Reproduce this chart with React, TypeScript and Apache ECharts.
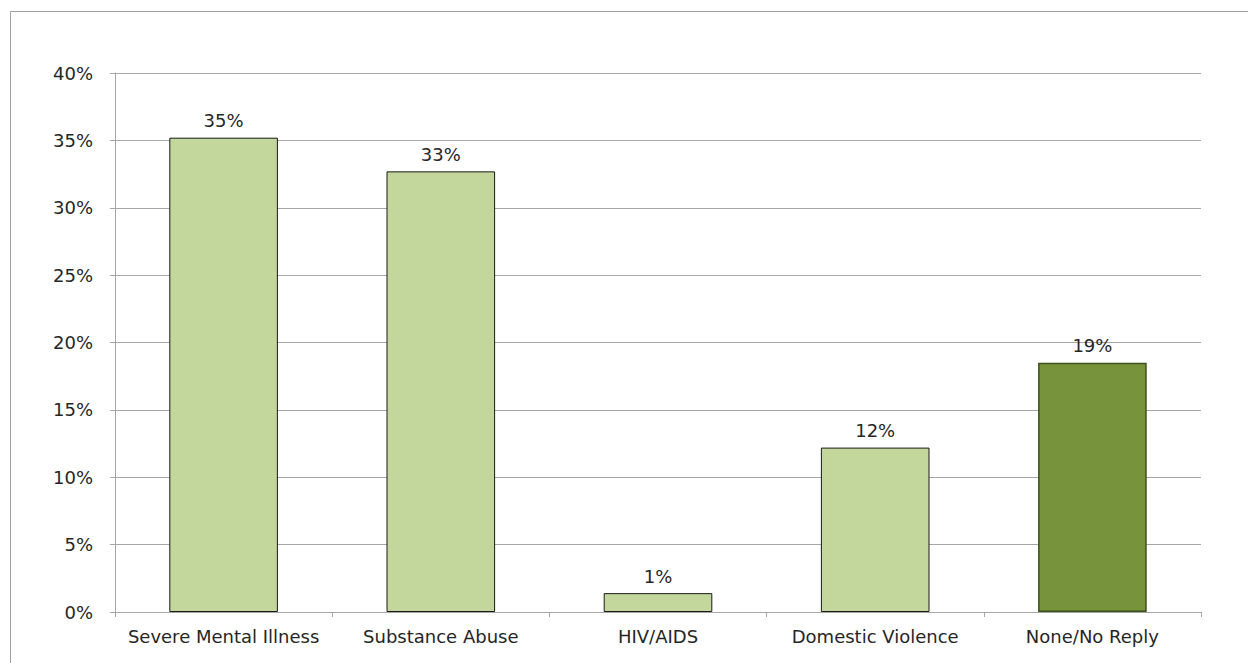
import React, { useEffect, useRef } from "react";
import * as echarts from "echarts";

const categories = ["Severe Mental Illness", "Substance Abuse", "HIV/AIDS", "Domestic Violence", "None/No Reply"];
const values = [35.2, 32.7, 1.4, 12.2, 18.5];
const labels = ["35%", "33%", "1%", "12%", "19%"];
const highlighted = [false, false, false, false, true];

export default function App() {
  const ref = useRef<HTMLDivElement>(null);
  useEffect(() => {
    const chart = echarts.init(ref.current!, null, { renderer: "svg" });
    const font = "DejaVu Sans";
    const fs = 18;
    chart.setOption({
      animation: false,
      backgroundColor: "#ffffff",
      graphic: [
        {
          type: "rect",
          shape: { x: 10.5, y: 11.5, width: 1260, height: 670 },
          style: { fill: "none", stroke: "#a0a0a0", lineWidth: 1 },
          silent: true,
        },
      ],
      grid: { left: 115, right: 47, top: 73, bottom: 51 },
      xAxis: {
        type: "category",
        data: categories,
        axisLine: { show: true, lineStyle: { color: "#a6a6a6", width: 1 } },
        axisTick: { show: true, length: 5, alignWithLabel: false, lineStyle: { color: "#a6a6a6" } },
        axisLabel: { color: "#262626", fontFamily: font, fontSize: fs, margin: 15, interval: 0 },
      },
      yAxis: {
        type: "value",
        min: 0,
        max: 40,
        interval: 5,
        axisLine: { show: true, lineStyle: { color: "#a6a6a6", width: 1 } },
        axisTick: { show: true, length: 5, lineStyle: { color: "#a6a6a6" } },
        axisLabel: { color: "#262626", fontFamily: font, fontSize: fs, margin: 22, formatter: "{value}%" },
        splitLine: { show: true, lineStyle: { color: "#a6a6a6", width: 1 } },
      },
      series: [
        {
          type: "bar",
          barWidth: "50%",
          data: values.map((v, i) => ({
            value: v,
            itemStyle: highlighted[i]
              ? { color: "#77933c", borderColor: "#3d4f1c", borderWidth: 1.5 }
              : { color: "#c3d69b", borderColor: "#1a1a1a", borderWidth: 1 },
          })),
          label: {
            show: true,
            position: "top",
            distance: 8,
            color: "#262626",
            fontFamily: font,
            fontSize: fs,
            formatter: (p: any) => labels[p.dataIndex],
          },
        },
      ],
    });
    return () => chart.dispose();
  }, []);
  return <div ref={ref} style={{ position: "fixed", left: 0, top: 0, width: 1248, height: 663 }} />;
}
